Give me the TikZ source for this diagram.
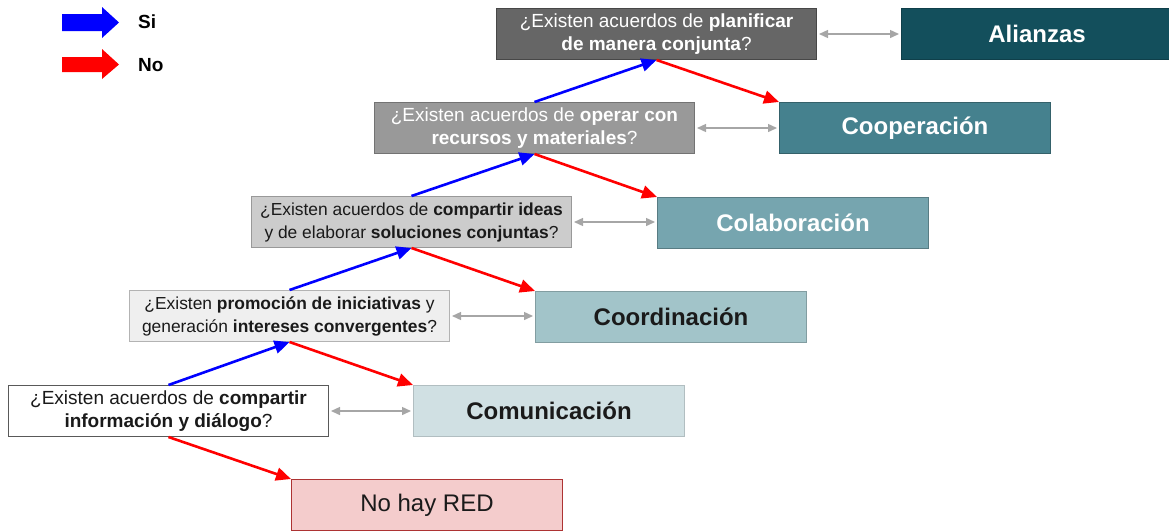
\documentclass[tikz,border=0pt]{standalone}
\usepackage{fontspec}
\setmainfont{Liberation Sans}
\usetikzlibrary{arrows.meta}
\definecolor{qa}{HTML}{666666}
\definecolor{qb}{HTML}{999999}
\definecolor{qc}{HTML}{CCCCCC}
\definecolor{qd}{HTML}{EFEFEF}
\definecolor{ra}{HTML}{134F5C}
\definecolor{rb}{HTML}{45818E}
\definecolor{rc}{HTML}{76A5AF}
\definecolor{rd}{HTML}{A2C4C9}
\definecolor{re}{HTML}{D0E0E3}
\definecolor{rf}{HTML}{F4CCCC}
\definecolor{yesc}{HTML}{0000FF}
\definecolor{noc}{HTML}{FF0000}
\definecolor{linkc}{HTML}{A6A6A6}
\definecolor{txt}{HTML}{1A1A1A}
\tikzset{
  qbox/.style={draw, line width=1pt, anchor=north west, minimum width=320pt, minimum height=51pt,
    inner sep=0pt, align=center, font=\fontsize{19}{23.5}\selectfont},
  smallq/.style={font=\fontsize{17.4}{23}\selectfont},
  rbox/.style={draw, line width=1pt, anchor=north west, minimum width=271pt, minimum height=51pt,
    inner sep=0pt, align=center, font=\fontsize{24}{28}\selectfont\bfseries},
  yesarrow/.style={draw=yesc, line width=2.6pt, -{Triangle[length=15pt,width=13pt]}},
  noarrow/.style={draw=noc, line width=2.6pt, -{Triangle[length=15pt,width=13pt]}},
  linkarrow/.style={draw=linkc, line width=1.4pt, {Triangle[length=9pt,width=8pt]}-{Triangle[length=9pt,width=8pt]}, shorten <=2pt, shorten >=2pt},
  legtext/.style={anchor=west, inner sep=0pt, font=\fontsize{19}{22}\selectfont\bfseries}
}
\begin{document}
\begin{tikzpicture}[x=1pt,y=-1pt]
\useasboundingbox (0,0) rectangle (1169,531);
% legend
\fill[yesc] (62,14) -- (102,14) -- (102,7) -- (119,22.5) -- (102,38) -- (102,31) -- (62,31) -- cycle;
\fill[noc] (62,57) -- (102,57) -- (102,49) -- (119,64.5) -- (102,79) -- (102,72) -- (62,72) -- cycle;
\node[legtext] (si) at (138,22) {Si};
\node[legtext] (no) at (138,65) {No};
% question boxes
\node[qbox, fill=qa, draw=qa!70!black, text=white] (q5) at (496,8) {¿Existen acuerdos de \textbf{planificar}\\\textbf{de manera conjunta}?};
\node[qbox, fill=qb, draw=qb!75!black, text=white] (q4) at (374,102) {¿Existen acuerdos de \textbf{operar con}\\\textbf{recursos y materiales}?};
\node[qbox, smallq, fill=qc, draw=qc!75!black, text=txt] (q3) at (251,196) {¿Existen acuerdos de \textbf{compartir ideas}\\y de elaborar \textbf{soluciones conjuntas}?};
\node[qbox, smallq, fill=qd, draw=qd!75!black, text=txt] (q2) at (129,290) {¿Existen \textbf{promoción de iniciativas} y\\generación \textbf{intereses convergentes}?};
\node[qbox, fill=white, draw=black!65, text=txt] (q1) at (8,385) {¿Existen acuerdos de \textbf{compartir}\\\textbf{información y diálogo}?};
% result boxes
\node[rbox, fill=ra, draw=ra!80!black, text=white] (r5) at (901,8) {Alianzas};
\node[rbox, fill=rb, draw=rb!75!black, text=white] (r4) at (779,102) {Cooperación};
\node[rbox, fill=rc, draw=rc!75!black, text=white] (r3) at (657,197) {Colaboración};
\node[rbox, fill=rd, draw=rd!80!black, text=txt] (r2) at (535,291) {Coordinación};
\node[rbox, fill=re, draw=re!85!black, text=txt] (r1) at (413,385) {Comunicación};
\node[rbox, fill=rf, draw=red!60!black!80, text=txt, font=\fontsize{24}{28}\selectfont] (r0) at (291,479) {No hay RED};
% yes arrows
\draw[yesarrow] (q1.north) -- (q2.south);
\draw[yesarrow] (q2.north) -- (q3.south);
\draw[yesarrow] (q3.north) -- (q4.south);
\draw[yesarrow] (q4.north) -- (q5.south);
% no arrows
\draw[noarrow] (q1.south) -- (r0.north west);
\draw[noarrow] (q2.south) -- (r1.north west);
\draw[noarrow] (q3.south) -- (r2.north west);
\draw[noarrow] (q4.south) -- (r3.north west);
\draw[noarrow] (q5.south) -- (r4.north west);
% links
\draw[linkarrow] (q1.east) -- (q1.east -| r1.west);
\draw[linkarrow] (q2.east) -- (q2.east -| r2.west);
\draw[linkarrow] (q3.east) -- (q3.east -| r3.west);
\draw[linkarrow] (q4.east) -- (q4.east -| r4.west);
\draw[linkarrow] (q5.east) -- (q5.east -| r5.west);
\end{tikzpicture}
\end{document}
